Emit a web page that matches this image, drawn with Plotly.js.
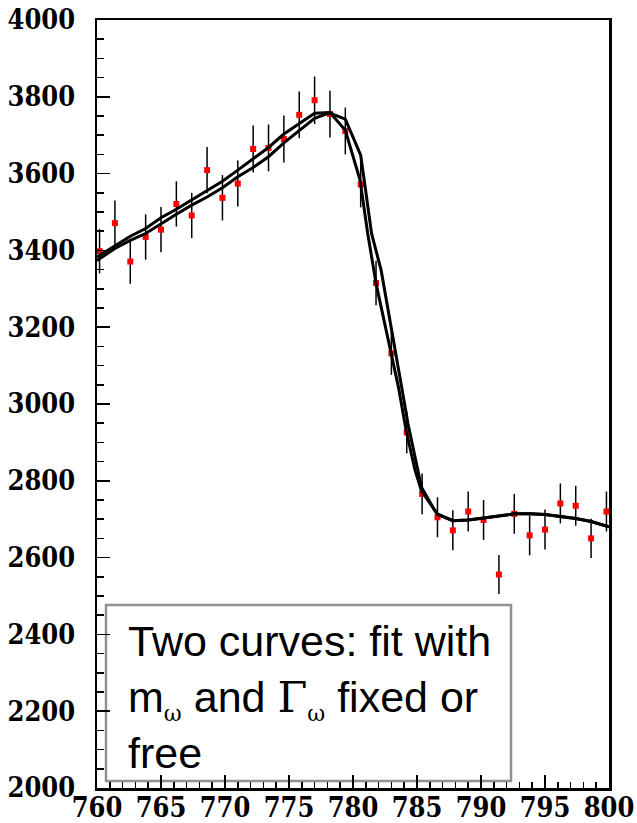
<!DOCTYPE html>
<html>
<head>
<meta charset="utf-8">
<script src="https://cdn.plot.ly/plotly-3.0.1.min.js"></script>
<style>html,body{margin:0;padding:0;background:#fff;}#chart{width:637px;height:823px;}</style>
</head>
<body>
<div id="chart"></div>
<script>
// Measured data points (mass in MeV, counts, error)
const massData = [760.2,761.4,762.6,763.8,765.0,766.2,767.4,768.6,769.8,771.0,772.2,773.4,774.6,775.8,777.0,778.2,779.4,780.6,781.8,783.0,784.2,785.4,786.6,787.8,789.0,790.2,791.4,792.6,793.8,795.0,796.2,797.4,798.6,799.8];
const countsData = [3398,3471,3371,3435,3454,3521,3491,3609,3537,3574,3664,3667,3690,3753,3791,3755,3711,3572,3315,3132,2926,2766,2705,2671,2720,2698,2556,2714,2658,2673,2741,2735,2650,2720];
const errorsData = [58,59,58,59,59,59,59,60,59,60,61,61,61,61,62,61,61,60,58,56,54,53,52,52,52,52,51,52,52,52,52,52,51,52];

// Fit curve 1 (higher on the left side, later descent)
const massFitA = [760.0,761.4,762.6,763.8,765.0,766.2,767.4,768.6,769.8,771.0,772.2,773.4,774.6,775.8,777.0,778.2,778.6,779.4,780.6,780.95,781.45,782.2,782.75,783.35,783.8,784.3,784.85,785.35,786.4,786.6,787.8,789.0,790.2,791.4,792.6,793.8,795.0,796.2,797.4,798.6,799.8,800.0];
const countsFitA = [3383,3413,3437,3457,3485,3507,3531,3555,3580,3609,3638,3668,3703,3731,3757,3759,3752,3742,3648,3565,3444,3348,3244,3140,3044,2948,2861,2783,2722,2713,2696,2698,2703,2709,2714,2714,2712,2707,2702,2694,2683,2680];

// Fit curve 2 (lower on the left side, earlier descent)
const massFitB = [760.0,760.2,761.4,762.6,763.8,765.0,766.2,767.4,768.6,769.8,771.0,772.2,773.4,774.6,775.8,777.0,778.2,778.6,779.4,780.55,781.15,781.8,782.95,783.55,784.15,784.85,785.35,786.4,786.6,787.8,789.0,790.2,791.4,792.6,793.8,795.0,796.2,797.4,798.6,799.8,800.0];
const countsFitB = [3374,3378,3405,3426,3444,3470,3494,3518,3539,3563,3592,3616,3644,3680,3711,3744,3759,3744,3713,3583,3444,3314,3140,3044,2931,2827,2774,2722,2713,2696,2698,2703,2709,2714,2714,2712,2707,2702,2694,2683,2680];

const xTickVals = [760,765,770,775,780,785,790,795,800];
const yTickVals = [2000,2200,2400,2600,2800,3000,3200,3400,3600,3800,4000];

const serif = "DejaVu Serif Condensed, DejaVu Serif";
const sans = "Liberation Sans, Arial, sans-serif";
const omegaSub = '<sub><span style="font-family:DejaVu Serif;font-size:22px">ω</span></sub>';

const traces = [
  {
    x: massData, y: countsData, type: 'scatter', mode: 'markers',
    marker: {symbol: 'square', size: 6, color: '#ff0000'},
    error_y: {type: 'data', array: errorsData, visible: true, color: '#000', thickness: 1.5, width: 0},
    hoverinfo: 'skip', showlegend: false
  },
  {
    x: massFitA, y: countsFitA, type: 'scatter', mode: 'lines',
    line: {color: '#000', width: 3}, showlegend: false
  },
  {
    x: massFitB, y: countsFitB, type: 'scatter', mode: 'lines',
    line: {color: '#000', width: 3}, showlegend: false
  }
];

const layout = {
  width: 637, height: 823,
  margin: {l: 97, r: 28, t: 20, b: 35},
  paper_bgcolor: '#fff', plot_bgcolor: '#fff',
  showlegend: false,
  xaxis: {
    range: [760, 800], tickvals: xTickVals, ticktext: xTickVals.map(String),
    ticks: 'inside', ticklen: 13, tickwidth: 1.5, tickcolor: '#000',
    minor: {dtick: 1, ticks: 'inside', ticklen: 6, tickwidth: 1.5, tickcolor: '#000', showgrid: false},
    showline: true, linecolor: '#000', linewidth: 2.5, mirror: true,
    showgrid: false, zeroline: false,
    tickfont: {family: serif, size: 27, color: '#000', weight: 'bold'},
    ticklabelstandoff: -6,
    ticklabeloverflow: 'allow'
  },
  yaxis: {
    range: [2000, 4000], tickvals: yTickVals, ticktext: yTickVals.map(String),
    ticks: 'inside', ticklen: 13, tickwidth: 1.5, tickcolor: '#000',
    minor: {dtick: 50, ticks: 'inside', ticklen: 7, tickwidth: 1.5, tickcolor: '#000', showgrid: false},
    showline: true, linecolor: '#000', linewidth: 2.5, mirror: true,
    showgrid: false, zeroline: false,
    tickfont: {family: serif, size: 27, color: '#000', weight: 'bold'},
    ticklabelstandoff: 14
  },
  shapes: [
    {type: 'rect', xref: 'paper', yref: 'paper', x0: 0.0176, x1: 0.8086, y0: 0.0091, y1: 0.2383,
     line: {color: '#909090', width: 2.5}, fillcolor: 'rgba(0,0,0,0)', layer: 'below'}
  ],
  annotations: [
    {
      xref: 'paper', yref: 'paper', x: 0.0566, y: 0.1185, xanchor: 'left', yanchor: 'middle',
      align: 'left', showarrow: false,
      font: {family: sans, size: 43, color: '#000'},
      text: "Two curves: fit with<br>m" + omegaSub + " and <span style=\"font-family:DejaVu Serif\">Γ</span>" + omegaSub + " fixed or<br>free"
    }
  ]
};

Plotly.newPlot('chart', traces, layout, {displayModeBar: false, staticPlot: true});
</script>
</body>
</html>
